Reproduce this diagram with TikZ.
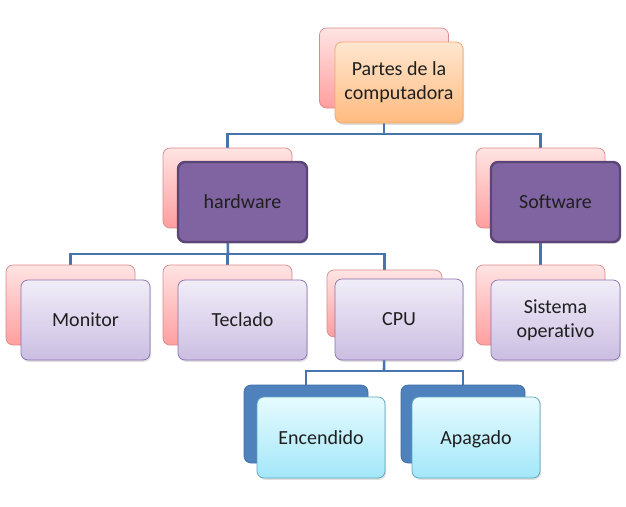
\documentclass[tikz,border=0pt]{standalone}
\usepackage{fontspec}
\setmainfont{Carlito}[Ligatures=NoCommon]
\usetikzlibrary{shadows,backgrounds}
\definecolor{pinkT}{HTML}{FFE4E4}
\definecolor{pinkB}{HTML}{FF9E9E}
\definecolor{pinkL}{HTML}{D98C8C}
\definecolor{orT}{HTML}{FFE6CF}
\definecolor{orB}{HTML}{FFBB7F}
\definecolor{orL}{HTML}{F0A870}
\definecolor{purF}{HTML}{8064A2}
\definecolor{purL}{HTML}{5A4578}
\definecolor{lavT}{HTML}{F1EDF8}
\definecolor{lavB}{HTML}{CBBEE2}
\definecolor{lavL}{HTML}{8A72AE}
\definecolor{dbF}{HTML}{4F81BD}
\definecolor{dbL}{HTML}{3F6EA8}
\definecolor{cyT}{HTML}{E6FBFF}
\definecolor{cyB}{HTML}{A3E7F9}
\definecolor{cyL}{HTML}{5AA6BE}
\definecolor{connC}{HTML}{4674AE}
\tikzset{
  x=1pt, y=-1pt,
  box/.style={rounded corners=7pt, minimum width=129pt, minimum height=80pt, inner sep=2pt, align=center, font=\fontsize{20}{24}\selectfont, text=black!88},
  pinkback/.style={box, draw=pinkL, line width=0.7pt, top color=pinkT, bottom color=pinkB},
  blueback/.style={box, draw=dbL, line width=0.7pt, fill=dbF},
  fshadow/.style={drop shadow={opacity=0.25, shadow xshift=1.2pt, shadow yshift=-1.8pt}},
  orfront/.style={box, fshadow, draw=orL, line width=0.7pt, top color=orT, bottom color=orB},
  purfront/.style={box, fshadow, draw=purL, line width=2.4pt, fill=purF},
  lavfront/.style={box, fshadow, draw=lavL, line width=0.7pt, top color=lavT, bottom color=lavB},
  cyfront/.style={box, fshadow, draw=cyL, line width=0.7pt, top color=cyT, bottom color=cyB},
  conn/.style={draw=connC, line width=2.6pt}
}
\begin{document}
\begin{tikzpicture}
\useasboundingbox (0,0) rectangle (626,506);
\coordinate (j1) at (384,134);
\coordinate (j2) at (228,254);
\coordinate (j3) at (384,371);
% top
\node[pinkback] (topb) at (384,68) {};
\node[orfront, minimum width=128pt, minimum height=81pt] (topf) at (399,82.5) {Partes de la\\computadora};
% hardware / software
\node[pinkback] (hwb) at (227.5,188) {};
\node[purfront] (hwf) at (242.5,202) {hardware};
\node[pinkback] (swb) at (540.5,188) {};
\node[purfront] (swf) at (555.5,202) {Software};
% level 3
\node[pinkback] (monb) at (70.5,305) {};
\node[lavfront] (monf) at (85.5,320) {Monitor};
\node[pinkback] (tecb) at (227.5,305) {};
\node[lavfront] (tecf) at (242.5,320) {Teclado};
\node[pinkback, minimum width=115pt, minimum height=67pt] (cpub) at (384.5,303.5) {};
\node[lavfront, minimum width=128pt, minimum height=81pt] (cpuf) at (399,319.5) {CPU};
\node[pinkback] (sob) at (540.5,305) {};
\node[lavfront] (sof) at (555.5,320) {Sistema\\operativo};
% level 4
\node[blueback, minimum width=124pt, minimum height=78pt] (encb) at (306,424) {};
\node[cyfront, minimum width=128pt, minimum height=81pt] (encf) at (321,437.5) {Encendido};
\node[blueback, minimum width=124pt, minimum height=78pt] (apab) at (463,424) {};
\node[cyfront, minimum width=128pt, minimum height=81pt, text depth=0pt] (apaf) at (476,437.5) {Apagado};
% connectors (behind the boxes)
\begin{scope}[on background layer]
\path[conn] (topb.south -| j1) -- (j1);
\path[conn] (j1) -| (hwb.north);
\path[conn] (j1) -| (swb.north);
\path[conn] (hwb.south) -- (j2);
\path[conn] (j2) -| (monb.north);
\path[conn] (j2) -| (tecb.north);
\path[conn] (j2) -| (cpub.north);
\path[conn] (swb.south) -- (sob.north);
\path[conn] (cpub.south) -- (j3);
\path[conn] (j3) -| (encb.north);
\path[conn] (j3) -| (apab.north);
\end{scope}
\end{tikzpicture}
\end{document}
